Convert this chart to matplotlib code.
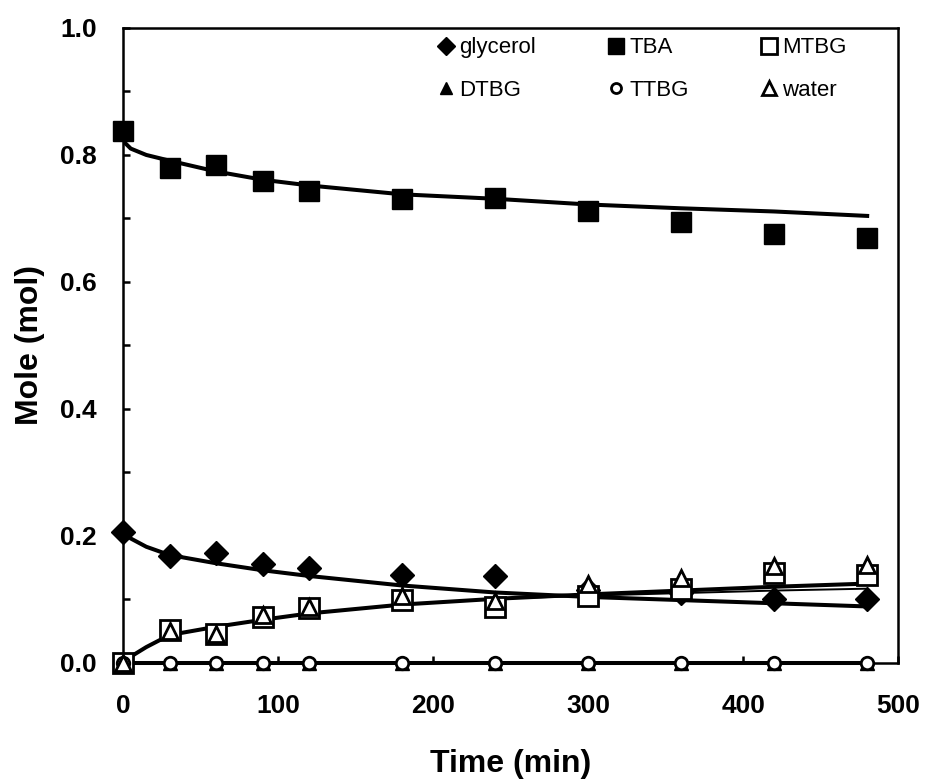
import matplotlib as mpl
import matplotlib.pyplot as plt
from matplotlib.ticker import MultipleLocator

# measured points
TIME = [0, 30, 60, 90, 120, 180, 240, 300, 360, 420, 480]
GLYCEROL = [0.207, 0.169, 0.173, 0.156, 0.149, 0.139, 0.137, 0.115, 0.11, 0.100, 0.100]
TBA = [0.837, 0.779, 0.784, 0.759, 0.743, 0.731, 0.732, 0.711, 0.695, 0.675, 0.669]
MTBG = [0.0, 0.052, 0.045, 0.072, 0.087, 0.099, 0.088, 0.106, 0.117, 0.141, 0.139]
DTBG = [0.0] * 11
TTBG = [0.0] * 11
WATER = [0.0, 0.050, 0.045, 0.075, 0.088, 0.105, 0.098, 0.124, 0.134, 0.152, 0.155]

# model curves
T_FIT = [0, 5, 15, 30, 60, 90, 120, 180, 240, 300, 360, 420, 480]
GLYCEROL_FIT = [0.207, 0.196, 0.183, 0.170, 0.157, 0.146, 0.137, 0.122, 0.111, 0.104, 0.099, 0.094, 0.089]
TBA_FIT = [0.822, 0.810, 0.800, 0.791, 0.774, 0.761, 0.752, 0.738, 0.731, 0.722, 0.716, 0.711, 0.704]
MTBG_FIT = [0.0, 0.010, 0.025, 0.044, 0.057, 0.068, 0.078, 0.092, 0.101, 0.106, 0.110, 0.114, 0.117]
WATER_FIT = [0.0, 0.010, 0.025, 0.044, 0.057, 0.068, 0.078, 0.092, 0.101, 0.108, 0.114, 0.120, 0.125]
ZERO_FIT = [0.0] * 13

RCPARAMS = {
    "font.family": "sans-serif",
    "font.sans-serif": ["Liberation Sans", "DejaVu Sans"],
    "font.size": 16,
}
LW = 2.9
MEW = 2.0


def main():
    for key in RCPARAMS:
        mpl.rcParams[key] = RCPARAMS[key]
    fig = plt.figure(figsize=(9.25, 7.83), dpi=100)
    ax = fig.add_axes([0.133, 0.1533, 0.838, 0.811])

    # fitted lines
    ax.plot(T_FIT, TBA_FIT, color="black", lw=LW, zorder=2)
    ax.plot(T_FIT, GLYCEROL_FIT, color="black", lw=LW, zorder=2)
    ax.plot(T_FIT, WATER_FIT, color="black", lw=LW, zorder=2)
    ax.plot(T_FIT, MTBG_FIT, color="black", lw=1.4, zorder=2)
    ax.plot(T_FIT, ZERO_FIT, color="black", lw=LW, zorder=2, clip_on=False)

    common = dict(linestyle="none", clip_on=False, zorder=3)
    h_gly, = ax.plot(TIME, GLYCEROL, marker="D", ms=12, color="black", label="glycerol", **common)
    h_tba, = ax.plot(TIME, TBA, marker="s", ms=14, color="black", label="TBA", **common)
    h_mtbg, = ax.plot(TIME, MTBG, marker="s", ms=15, mfc="white", mec="black", mew=MEW,
                      label="MTBG", **common)
    h_dtbg, = ax.plot(TIME, DTBG, marker="^", ms=10, color="black", label="DTBG", **common)
    h_ttbg, = ax.plot(TIME, TTBG, marker="o", ms=9, mfc="white", mec="black", mew=MEW,
                      label="TTBG", **common)
    h_wat, = ax.plot(TIME, WATER, marker="^", ms=12, mfc="white", mec="black", mew=MEW,
                     label="water", **common)

    ax.set_xlim(0, 500)
    ax.set_ylim(0, 1.0)
    ax.xaxis.set_major_locator(MultipleLocator(100))
    ax.yaxis.set_major_locator(MultipleLocator(0.2))
    ax.yaxis.set_minor_locator(MultipleLocator(0.1))
    ax.yaxis.set_major_formatter(mpl.ticker.FormatStrFormatter("%.1f"))
    ax.tick_params(axis="both", which="both", direction="in", width=1.8,
                   labelsize=19, top=False, right=False)
    ax.tick_params(axis="both", which="major", length=5)
    ax.tick_params(axis="x", which="major", pad=22)
    ax.tick_params(axis="y", which="major", pad=19)
    ax.tick_params(axis="y", which="minor", length=5)
    for lab in ax.get_xticklabels() + ax.get_yticklabels():
        lab.set_fontweight("bold")
    for sp in ax.spines.values():
        sp.set_linewidth(1.8)

    ax.set_xlabel("Time (min)", fontsize=23, fontweight="bold", labelpad=23)
    ax.set_ylabel("Mole (mol)", fontsize=23, fontweight="bold", labelpad=11)

    handles = [h_gly, h_dtbg, h_tba, h_ttbg, h_mtbg, h_wat]
    ax.legend(handles=handles, labels=[h.get_label() for h in handles], ncol=3,
              loc="upper left", bbox_to_anchor=(0.405, 0.985), frameon=False,
              borderpad=0, borderaxespad=0, handlelength=0.8, handletextpad=0.2,
              columnspacing=3.2, labelspacing=0.95, markerscale=0.8)

    fig.savefig("out.png", dpi=100)


if __name__ == "__main__":
    main()
